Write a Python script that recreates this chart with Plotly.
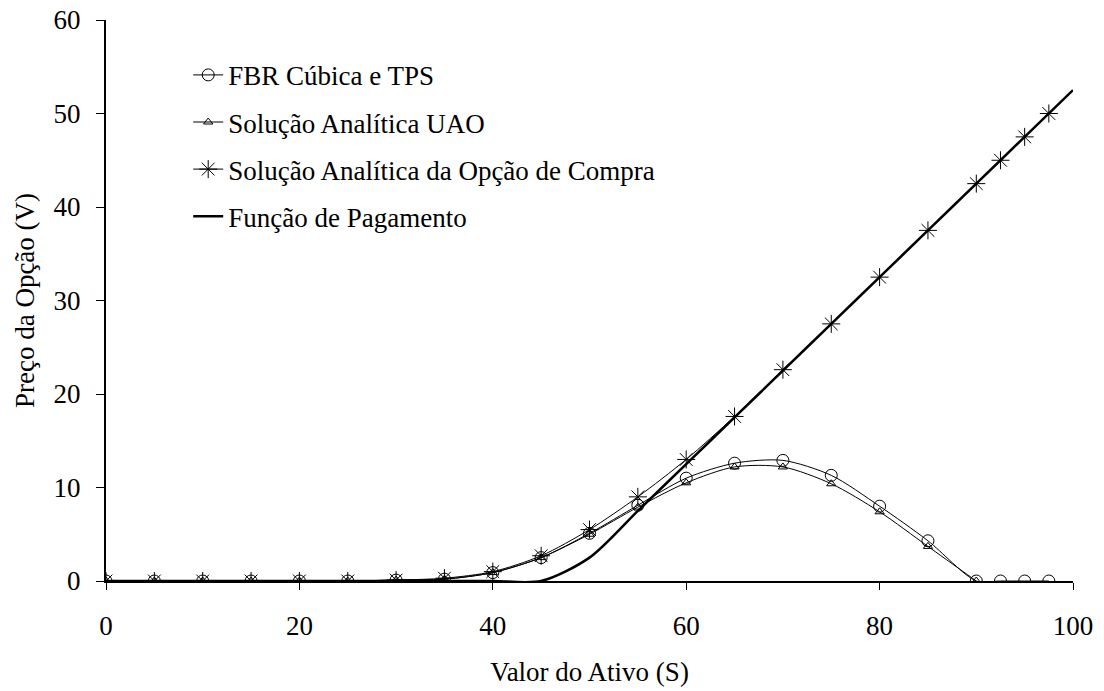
import plotly.graph_objects as go

# ---- data ----
x_fbr = [0, 5, 10, 15, 20, 25, 30, 35, 40, 45, 50, 55, 60, 65, 70, 75, 80, 85, 90, 92.5, 95, 97.5]
y_fbr = [0.0, 0.0, 0.0, 0.0, 0.0, 0.0, 0.1, 0.2, 0.9, 2.5, 5.1, 8.1, 11.0, 12.6, 12.9, 11.3, 8.0, 4.3, 0.0, 0.0, 0.0, 0.0]

x_uao = [0, 5, 10, 15, 20, 25, 30, 35, 40, 45, 50, 55, 60, 65, 70, 75, 80, 85, 90]
y_uao = [0.0, 0.0, 0.0, 0.0, 0.0, 0.0, 0.1, 0.2, 0.9, 2.5, 5.0, 7.9, 10.5, 12.2, 12.2, 10.4, 7.4, 3.7, 0.0]

x_call = [0, 5, 10, 15, 20, 25, 30, 35, 40, 45, 50, 55, 60, 65, 70, 75, 80, 85, 90, 92.5, 95, 97.5]
y_call = [0.0, 0.0, 0.0, 0.0, 0.0, 0.0, 0.1, 0.3, 1.0, 2.7, 5.5, 9.0, 13.0, 17.6, 22.6, 27.5, 32.5, 37.5, 42.5, 45.0, 47.5, 50.0]

x_pay = [0, 5, 10, 15, 20, 25, 30, 35, 40, 45, 50, 55, 60, 65, 70, 75, 80, 85, 90, 95, 100]
y_pay = [0, 0, 0, 0, 0, 0, 0, 0, 0, 0, 2.5, 7.5, 12.5, 17.5, 22.5, 27.5, 32.5, 37.5, 42.5, 47.5, 52.5]

names = ["FBR Cúbica e TPS", "Solução Analítica UAO",
         "Solução Analítica da Opção de Compra", "Função de Pagamento"]

x_ticks = [0, 20, 40, 60, 80, 100]
y_ticks = [0, 10, 20, 30, 40, 50, 60]

FONT = "Liberation Serif"
FS = 27

fig = go.Figure()
fig.add_trace(go.Scatter(
    x=x_fbr, y=y_fbr, name=names[0], legendgroup="a", mode="lines+markers",
    line=dict(color="black", width=1, shape="spline", smoothing=0.8),
    marker=dict(symbol="circle-open", size=12, color="black", line=dict(width=1))))
fig.add_trace(go.Scatter(
    x=x_uao, y=y_uao, name=names[1], legendgroup="b", mode="lines+markers",
    line=dict(color="black", width=1, shape="spline", smoothing=0.8),
    marker=dict(symbol="triangle-up-open", size=8, color="black", line=dict(width=1))))
fig.add_trace(go.Scatter(
    x=x_call, y=y_call, name=names[2], legendgroup="c", mode="lines+markers",
    line=dict(color="black", width=1, shape="spline", smoothing=0.8),
    marker=dict(symbol="asterisk-open", size=15, color="black", line=dict(width=1, color="black"))))
fig.add_trace(go.Scatter(
    x=x_pay, y=y_pay, name=names[3], legendgroup="d", mode="lines",
    line=dict(color="black", width=2.5, shape="spline", smoothing=0.8)))

fig.update_layout(
    width=1104, height=691,
    margin=dict(l=106, r=31, t=20, b=110),
    paper_bgcolor="white", plot_bgcolor="white",
    font=dict(family=FONT, size=FS, color="black"),
    showlegend=True,
    legend=dict(x=0.085, y=0.945, xanchor="left", yanchor="top",
                bgcolor="rgba(0,0,0,0)", font=dict(size=FS, family=FONT),
                tracegroupgap=9, itemwidth=30),
    xaxis=dict(range=[0, 100], tickvals=x_ticks, ticks="outside", ticklen=7,
               tickwidth=1, tickcolor="black", showline=True, linecolor="black",
               linewidth=2, showgrid=False, zeroline=False, ticklabelstandoff=13,
               automargin=False, ticklabeloverflow="allow",
               title=dict(text="Valor do Ativo (S)", standoff=22,
                          font=dict(size=FS, family=FONT))),
    yaxis=dict(range=[0, 60], tickvals=y_ticks, ticks="outside", ticklen=8,
               tickwidth=1, tickcolor="black", showline=True, linecolor="black",
               linewidth=2, showgrid=False, zeroline=False, ticklabelstandoff=10,
               automargin=False, ticklabeloverflow="allow",
               title=dict(text="Preço da Opção (V)", standoff=11,
                          font=dict(size=FS, family=FONT))),
)

fig.write_html("out.html", config={"displayModeBar": False},
               post_script="document.body.style.margin='0';document.body.style.overflow='hidden';")
